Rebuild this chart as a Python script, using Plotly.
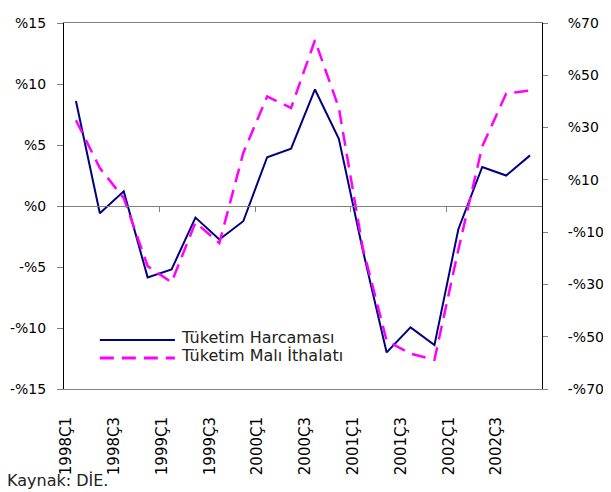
import plotly.graph_objects as go

# Çeyrekler
quarters = [f"{y}Ç{q}" for y in range(1998, 2003) for q in range(1, 5)]

# Tüketim Harcaması (sol eksen, %)
harcama = [8.6, -0.6, 1.2, -5.85, -5.2, -0.95, -2.75, -1.25, 4.0, 4.7,
           9.55, 5.5, -3.6, -12.0, -9.95, -11.4, -1.9, 3.2, 2.5, 4.15]

# Tüketim Malı İthalatı (sağ eksen, %)
ithalat = [32.8, 14.5, 3.0, -23.0, -29.2, -6.3, -14.2, 20.3, 41.9, 37.5,
           63.4, 37.5, -16.0, -51.5, -56.5, -58.8, -16.7, 22.8, 43.0, 44.2]

left_ticks = [-15, -10, -5, 0, 5, 10, 15]
right_ticks = [-70, -50, -30, -10, 10, 30, 50, 70]

NAVY = "#000080"
MAGENTA = "#FF00FF"
GRAY = "#808080"
FONT = "DejaVu Sans"


def pct(v):
    return f"-%{abs(v)}" if v < 0 else f"%{v}"


idx = list(range(len(quarters)))
label_idx = idx[::2]

fig = go.Figure()
fig.add_trace(go.Scatter(
    x=idx, y=harcama, mode="lines", name="Tüketim Harcaması",
    line=dict(color=NAVY, width=2), xaxis="x", yaxis="y",
))
fig.add_trace(go.Scatter(
    x=idx, y=ithalat, mode="lines", name="Tüketim Malı İthalatı",
    line=dict(color=MAGENTA, width=2.5, dash="14px,8px"), xaxis="x2", yaxis="y2",
))

xr = [-0.5, len(quarters) - 0.5]

# sayfa gövdesi 8px kenar boşluğu bıraktığı için boyutlar buna göre
fig.update_layout(
    width=603, height=484,
    margin=dict(l=56, r=69, t=15, b=103),
    paper_bgcolor="white", plot_bgcolor="white",
    showlegend=False,
    font=dict(family=FONT, size=14, color="black"),
    # sıfır çizgisi + yıl ayraçları
    xaxis=dict(
        range=xr, anchor="free", position=0.5, automargin=False,
        showline=True, linecolor=GRAY, linewidth=1,
        ticks="outside", ticklen=5, tickcolor=GRAY,
        tickvals=[3.5, 7.5, 11.5, 15.5],
        showticklabels=False, showgrid=False, zeroline=False,
    ),
    # alt etiketler + çerçeve
    xaxis2=dict(
        range=xr, overlaying="x", anchor="y", side="bottom", automargin=False,
        showline=True, mirror=True, linecolor=GRAY, linewidth=1,
        ticks="outside", ticklen=21, tickcolor="rgba(0,0,0,0)",
        tickangle=-90,
        tickvals=[i - 0.4 for i in label_idx],
        ticktext=[quarters[i] for i in label_idx],
        tickfont=dict(size=15),
        showgrid=False, zeroline=False,
    ),
    yaxis=dict(
        range=[-15, 15], anchor="x", automargin=False,
        tickvals=left_ticks, ticktext=[pct(v) for v in left_ticks],
        ticks="outside", ticklen=6, tickcolor=GRAY, ticklabelstandoff=8,
        showline=True, linecolor="black", linewidth=1,
        showgrid=False, zeroline=False,
    ),
    yaxis2=dict(
        range=[-70, 70], overlaying="y", anchor="x2", side="right", automargin=False,
        tickvals=right_ticks, ticktext=[pct(v) for v in right_ticks],
        ticks="outside", ticklen=5, tickcolor=GRAY, ticklabelstandoff=17,
        showline=True, linecolor="black", linewidth=1,
        showgrid=False, zeroline=False,
    ),
)

# lejant (elle çizildi; örnek çizgiler uzun)
for y, color, dash, width, text in [
    (0.134, NAVY, "solid", 2, "Tüketim Harcaması"),
    (0.085, MAGENTA, "14px,8px", 3, "Tüketim Malı İthalatı"),
]:
    fig.add_shape(type="line", xref="paper", yref="paper",
                  x0=0.075, x1=0.232, y0=y, y1=y,
                  line=dict(color=color, width=width, dash=dash))
    fig.add_annotation(xref="paper", yref="paper", x=0.24, y=y + 0.006,
                       text=text, showarrow=False, xanchor="left", yanchor="middle",
                       font=dict(size=16, color="#222222"))

fig.add_annotation(xref="paper", yref="paper", x=-0.124, y=-0.25,
                   text="Kaynak: DİE.", showarrow=False,
                   xanchor="left", yanchor="middle",
                   font=dict(size=16, color="#222222"))

fig.write_html("out.html")
